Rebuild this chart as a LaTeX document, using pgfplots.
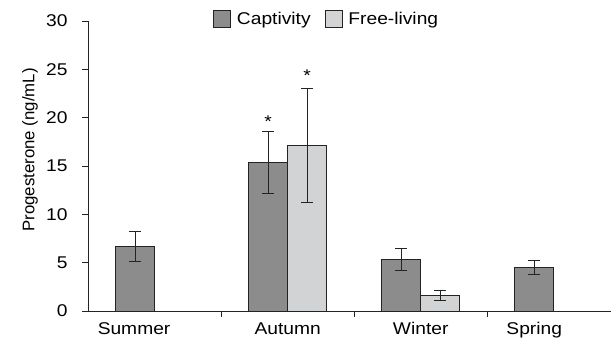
\documentclass[border=0pt]{standalone}
\usepackage{pgfplots}
\pgfplotsset{compat=1.18}
\usepackage{fontspec}
\setmainfont{Liberation Sans}[FakeStretch=1.13]
\newfontfamily\plainfont{Liberation Sans}
\definecolor{capt}{RGB}{140,140,140}
\definecolor{free}{RGB}{210,211,213}
\definecolor{edge}{RGB}{35,35,35}
\newcommand{\bigf}{\fontsize{17}{20}\selectfont}
\begin{document}
\begin{tikzpicture}
\begin{axis}[
  name=ax,
  scale only axis,
  width=523pt, height=290pt,
  every tick label/.append style={font=\bigf},
  /pgf/number format/assume math mode=true,
  ybar=0pt,
  bar width=0.293,
  xmin=-0.5, xmax=3.43,
  ymin=0, ymax=30,
  ytick={0,5,...,30},
  xtick={0.5,1.5,2.5},
  xticklabels={},
  extra x ticks={-0.154,1,2,2.853},
  extra x tick labels={Summer,Autumn,Winter,Spring},
  extra x tick style={major tick length=0pt, tick label style={yshift=-8pt, font=\bigf}},
  yticklabel style={font=\bigf, xshift=-11pt},
  axis x line*=bottom,
  axis y line*=left,
  axis line style={-, edge, line width=0.8pt},
  tick style={edge, line width=0.8pt},
  tick align=outside,
  major tick length=6pt,
  ylabel={Progesterone (ng/mL)},
  ylabel style={font=\plainfont\fontsize{16.8}{19}\selectfont, at={(axis description cs:-0.111,0.555)}, anchor=center},
  legend style={draw=none, fill=none, at={(0.239,1.007)}, anchor=west, legend columns=2, inner sep=0pt, font=\bigf,
    /tikz/every odd column/.append style={column sep=4pt},
    /tikz/every even column/.append style={column sep=12pt}},
  legend image code/.code={\draw[#1] (0pt,-8.5pt) rectangle (17pt,8.5pt);},
  error bars/error bar style={edge, line width=0.8pt},
  error bars/error mark options={rotate=90, mark size=6pt, line width=0.8pt, edge},
]
\addplot[fill=capt, draw=edge, line width=0.8pt,
  error bars/.cd, y dir=both, y explicit]
  coordinates {(0,6.7) +- (0,1.55) (1,15.4) +- (0,3.2) (2,5.3) +- (0,1.15) (3,4.5) +- (0,0.75)};
\addplot[fill=free, draw=edge, line width=0.8pt,
  error bars/.cd, y dir=both, y explicit]
  coordinates {(1,17.1) +- (0,5.9) (2,1.6) +- (0,0.5)};
\legend{Captivity,Free-living}
\node[font=\fontsize{17}{18}\selectfont] at (axis cs:0.8535,19.6) {*};
\node[font=\fontsize{17}{18}\selectfont] at (axis cs:1.1465,24.3) {*};
\end{axis}
\pgfresetboundingbox
\path ([xshift=-88pt,yshift=-30pt]ax.south west) rectangle ([yshift=21pt]ax.north east);
\end{tikzpicture}
\end{document}
